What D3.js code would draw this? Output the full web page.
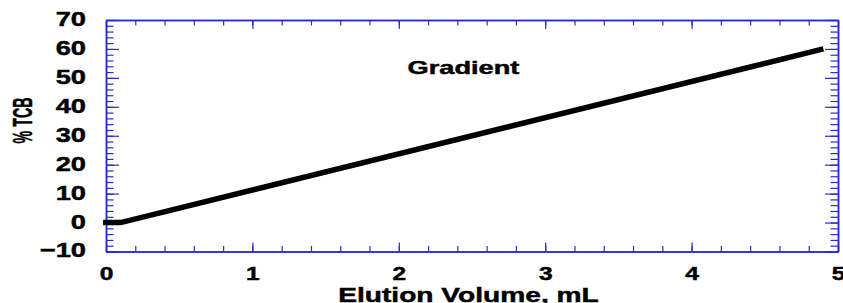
<!DOCTYPE html>
<html>
<head>
<meta charset="utf-8">
<script src="https://cdn.jsdelivr.net/npm/d3@7"></script>
<style>
  body { margin: 0; background: #fff; }
  svg text { font-family: "Liberation Sans", Arial, sans-serif; font-weight: bold; fill: #000;
             stroke: #000; stroke-width: 0.45px; }
</style>
</head>
<body>
<svg id="chart" width="843" height="303"></svg>
<script>
// gradient program: % TCB vs elution volume
var volume = [-0.02, 0.1, 4.9];
var tcb = [0, 0, 60];
var xTicks = [0, 1, 2, 3, 4, 5];
var yTicks = [-10, 0, 10, 20, 30, 40, 50, 60, 70];
var xLabel = "Elution Volume, mL";
var yLabel = "% TCB";
var title = "Gradient";

var margin = { left: 106, top: 20, right: 5, bottom: 51.5 };
var W = 843, H = 303;
var axisColor = "#2b2bd2";

var svg = d3.select("#chart");
var x = d3.scaleLinear().domain([0, 5]).range([margin.left, W - margin.right]);
var y = d3.scaleLinear().domain([-10, 70]).range([H - margin.bottom, margin.top]);

var xMinor = d3.range(0, 5.0001, 0.2);
var yMinor = d3.range(-10, 70.0001, 2);

function styleAxis(g) {
    g.attr("font-family", null).attr("font-size", null);
    g.select(".domain").attr("stroke", axisColor).attr("stroke-width", 1.5);
    g.selectAll(".tick line").attr("stroke", axisColor).attr("stroke-width", 1.2);
    g.selectAll(".tick text").attr("fill", "#000");
}

// widen text to match the picture
function widen(sel, k) {
    sel.each(function () {
        var len = this.getComputedTextLength();
        d3.select(this).attr("textLength", len * k).attr("lengthAdjust", "spacingAndGlyphs");
    });
}

// minor ticks on all four sides
svg.append("g").attr("transform", "translate(0," + y(-10) + ")")
    .call(d3.axisBottom(x).tickValues(xMinor).tickSize(-5.5).tickFormat("").tickSizeOuter(0)).call(styleAxis);
svg.append("g").attr("transform", "translate(0," + y(70) + ")")
    .call(d3.axisTop(x).tickValues(xMinor).tickSize(-5.5).tickFormat("").tickSizeOuter(0)).call(styleAxis);
svg.append("g").attr("transform", "translate(" + x(0) + ",0)")
    .call(d3.axisLeft(y).tickValues(yMinor).tickSize(-7.5).tickFormat("").tickSizeOuter(0)).call(styleAxis);
svg.append("g").attr("transform", "translate(" + x(5) + ",0)")
    .call(d3.axisRight(y).tickValues(yMinor).tickSize(-7.5).tickFormat("").tickSizeOuter(0)).call(styleAxis);

// major ticks
var xb = svg.append("g").attr("transform", "translate(0," + y(-10) + ")")
    .call(d3.axisBottom(x).tickValues(xTicks).tickFormat(d3.format("d")).tickSize(-9).tickPadding(16).tickSizeOuter(0))
    .call(styleAxis);
xb.selectAll(".tick text").style("font-size", "18px");
svg.append("g").attr("transform", "translate(0," + y(70) + ")")
    .call(d3.axisTop(x).tickValues(xTicks).tickSize(-9).tickFormat("").tickSizeOuter(0)).call(styleAxis);
var yl = svg.append("g").attr("transform", "translate(" + x(0) + ",0)")
    .call(d3.axisLeft(y).tickValues(yTicks).tickFormat(d3.format("d")).tickSize(-13).tickPadding(20).tickSizeOuter(0))
    .call(styleAxis);
yl.selectAll(".tick text").style("font-size", "21px").attr("dy", "0.26em");
svg.append("g").attr("transform", "translate(" + x(5) + ",0)")
    .call(d3.axisRight(y).tickValues(yTicks).tickSize(-13).tickFormat("").tickSizeOuter(0)).call(styleAxis);

widen(xb.selectAll(".tick text"), 1.36);
widen(yl.selectAll(".tick text"), 1.3);

// gradient line
var line = d3.line().x(function (d, i) { return x(volume[i]); }).y(function (d) { return y(d); });
svg.append("path")
    .datum(tcb)
    .attr("d", line)
    .attr("fill", "none")
    .attr("stroke", "#000")
    .attr("stroke-width", 5.5);

// texts
var t = svg.append("text").attr("x", 463.5).attr("y", 73.5).attr("text-anchor", "middle")
    .style("font-size", "18.5px").text(title);
widen(t, 1.47);

var xl = svg.append("text").attr("x", 468.5).attr("y", 301.5).attr("text-anchor", "middle")
    .style("font-size", "21px").text(xLabel);
widen(xl, 1.34);

svg.append("text").attr("transform", "translate(32,120.5) rotate(-90)").attr("text-anchor", "middle")
    .style("font-size", "28px").attr("textLength", 46).attr("lengthAdjust", "spacingAndGlyphs").text(yLabel);
</script>
</body>
</html>
